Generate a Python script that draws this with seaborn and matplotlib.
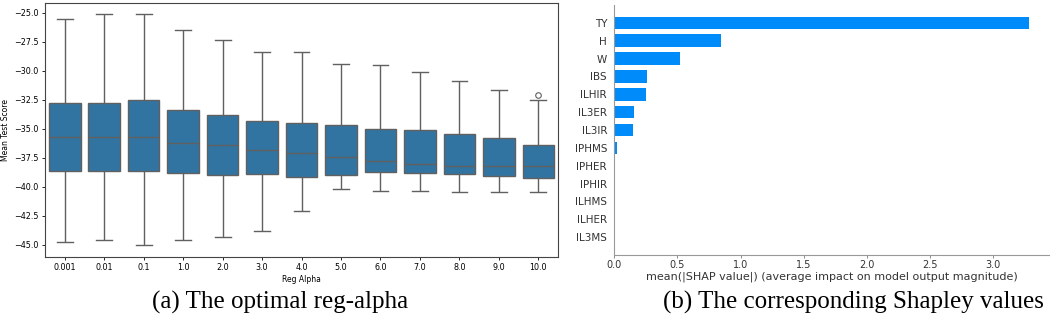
import numpy as np
import pandas as pd
import matplotlib
matplotlib.use("Agg")
import matplotlib.pyplot as plt
import seaborn as sns

# ======================================================
# Data
# ======================================================

reg_alpha = ["0.001", "0.01", "0.1", "1.0", "2.0", "3.0", "4.0",
             "5.0", "6.0", "7.0", "8.0", "9.0", "10.0"]

whisker_low = [-44.74, -44.60, -45.03, -44.57, -44.34, -43.80, -42.07,
               -40.20, -40.32, -40.35, -40.41, -40.44, -40.47]
q1 = [-38.60, -38.60, -38.66, -38.80, -39.00, -38.86, -39.12,
      -39.00, -38.74, -38.77, -38.86, -39.03, -39.20]
median = [-35.67, -35.67, -35.67, -36.25, -36.42, -36.82, -37.11,
          -37.40, -37.77, -38.03, -38.23, -38.23, -38.23]
q3 = [-32.75, -32.80, -32.49, -33.38, -33.78, -34.33, -34.47,
      -34.70, -34.99, -35.10, -35.47, -35.82, -36.40]
whisker_high = [-25.52, -25.06, -25.14, -26.46, -27.30, -28.39, -28.41,
                -29.42, -29.48, -30.14, -30.91, -31.69, -32.55]
outlier = [None, None, None, None, None, None, None,
           None, None, None, None, None, -32.05]

features = ["TY", "H", "W", "IBS", "ILHIR", "IL3ER", "IL3IR",
            "IPHMS", "IPHER", "IPHIR", "ILHMS", "ILHER", "IL3MS"]
shap_values = [3.28, 0.848, 0.52, 0.261, 0.251, 0.158, 0.148,
               0.021, 0.0, 0.0, 0.0, 0.0, 0.0]

# ======================================================
# Build samples whose quartiles / whiskers match the stats
# (9 points: q1 at index 2, median at 4, q3 at 6)
# ======================================================

rows = []
for i, name in enumerate(reg_alpha):
    top = outlier[i] if outlier[i] is not None else whisker_high[i]
    sample = [whisker_low[i], q1[i], q1[i], q1[i], median[i],
              q3[i], q3[i], whisker_high[i], top]
    for v in sample:
        rows.append({"reg_alpha": name, "score": v})
scores = pd.DataFrame(rows)

shap_df = pd.DataFrame({"feature": features, "value": shap_values})

# ======================================================
# Figure
# ======================================================

fig = plt.figure(figsize=(10.52, 3.14), dpi=100)

# ---- (a) box plot ----
ax1 = fig.add_axes([0.0428, 0.1815, 0.4877, 0.8089])
sns.boxplot(data=scores, x="reg_alpha", y="score", order=reg_alpha,
            ax=ax1, width=0.8, linecolor="#606060", linewidth=1.0,
            flierprops={"markersize": 4, "markeredgewidth": 0.8})
ax1.set_ylim(-46.05, -24.15)
ax1.set_yticks(np.arange(-45, -24, 2.5))
ax1.set_xlabel("Reg Alpha", fontsize=5.5, labelpad=2)
ax1.set_ylabel("Mean Test Score", fontsize=5.5, labelpad=3)
ax1.tick_params(labelsize=5.8, length=2.5, width=0.6, pad=2)
for s in ax1.spines.values():
    s.set_linewidth(0.8)
    s.set_color("#444444")

# ---- (b) SHAP bar plot ----
ax2 = fig.add_axes([0.5837, 0.188, 0.4135, 0.796])
sns.barplot(data=shap_df, x="value", y="feature", order=features,
            color="#008bfb", saturation=1, width=0.7, orient="h", ax=ax2)
ax2.set_ylim(13, -1)
ax2.set_xlim(0, 3.44)
ax2.set_xticks(np.arange(0, 3.01, 0.5))
ax2.set_ylabel("")
ax2.set_xlabel("mean(|SHAP value|) (average impact on model output magnitude)",
               fontsize=8, color="#333333", labelpad=1)
ax2.tick_params(axis="y", length=0, labelsize=7.5, labelcolor="#333333", pad=5)
ax2.tick_params(axis="x", labelsize=7, labelcolor="#333333",
                length=2, width=0.6, color="#777777", pad=1.5)
ax2.spines["top"].set_visible(False)
ax2.spines["right"].set_visible(False)
ax2.spines["left"].set_color("#999999")
ax2.spines["bottom"].set_color("#999999")

# ---- captions ----
fig.text(0.266, 1 - 308.5 / 314, "(a) The optimal reg-alpha",
         ha="center", va="baseline", fontsize=18, family="Liberation Serif")
fig.text(0.811, 1 - 308.5 / 314, "(b) The corresponding Shapley values",
         ha="center", va="baseline", fontsize=18, family="Liberation Serif")

fig.savefig("out.png", dpi=100)
